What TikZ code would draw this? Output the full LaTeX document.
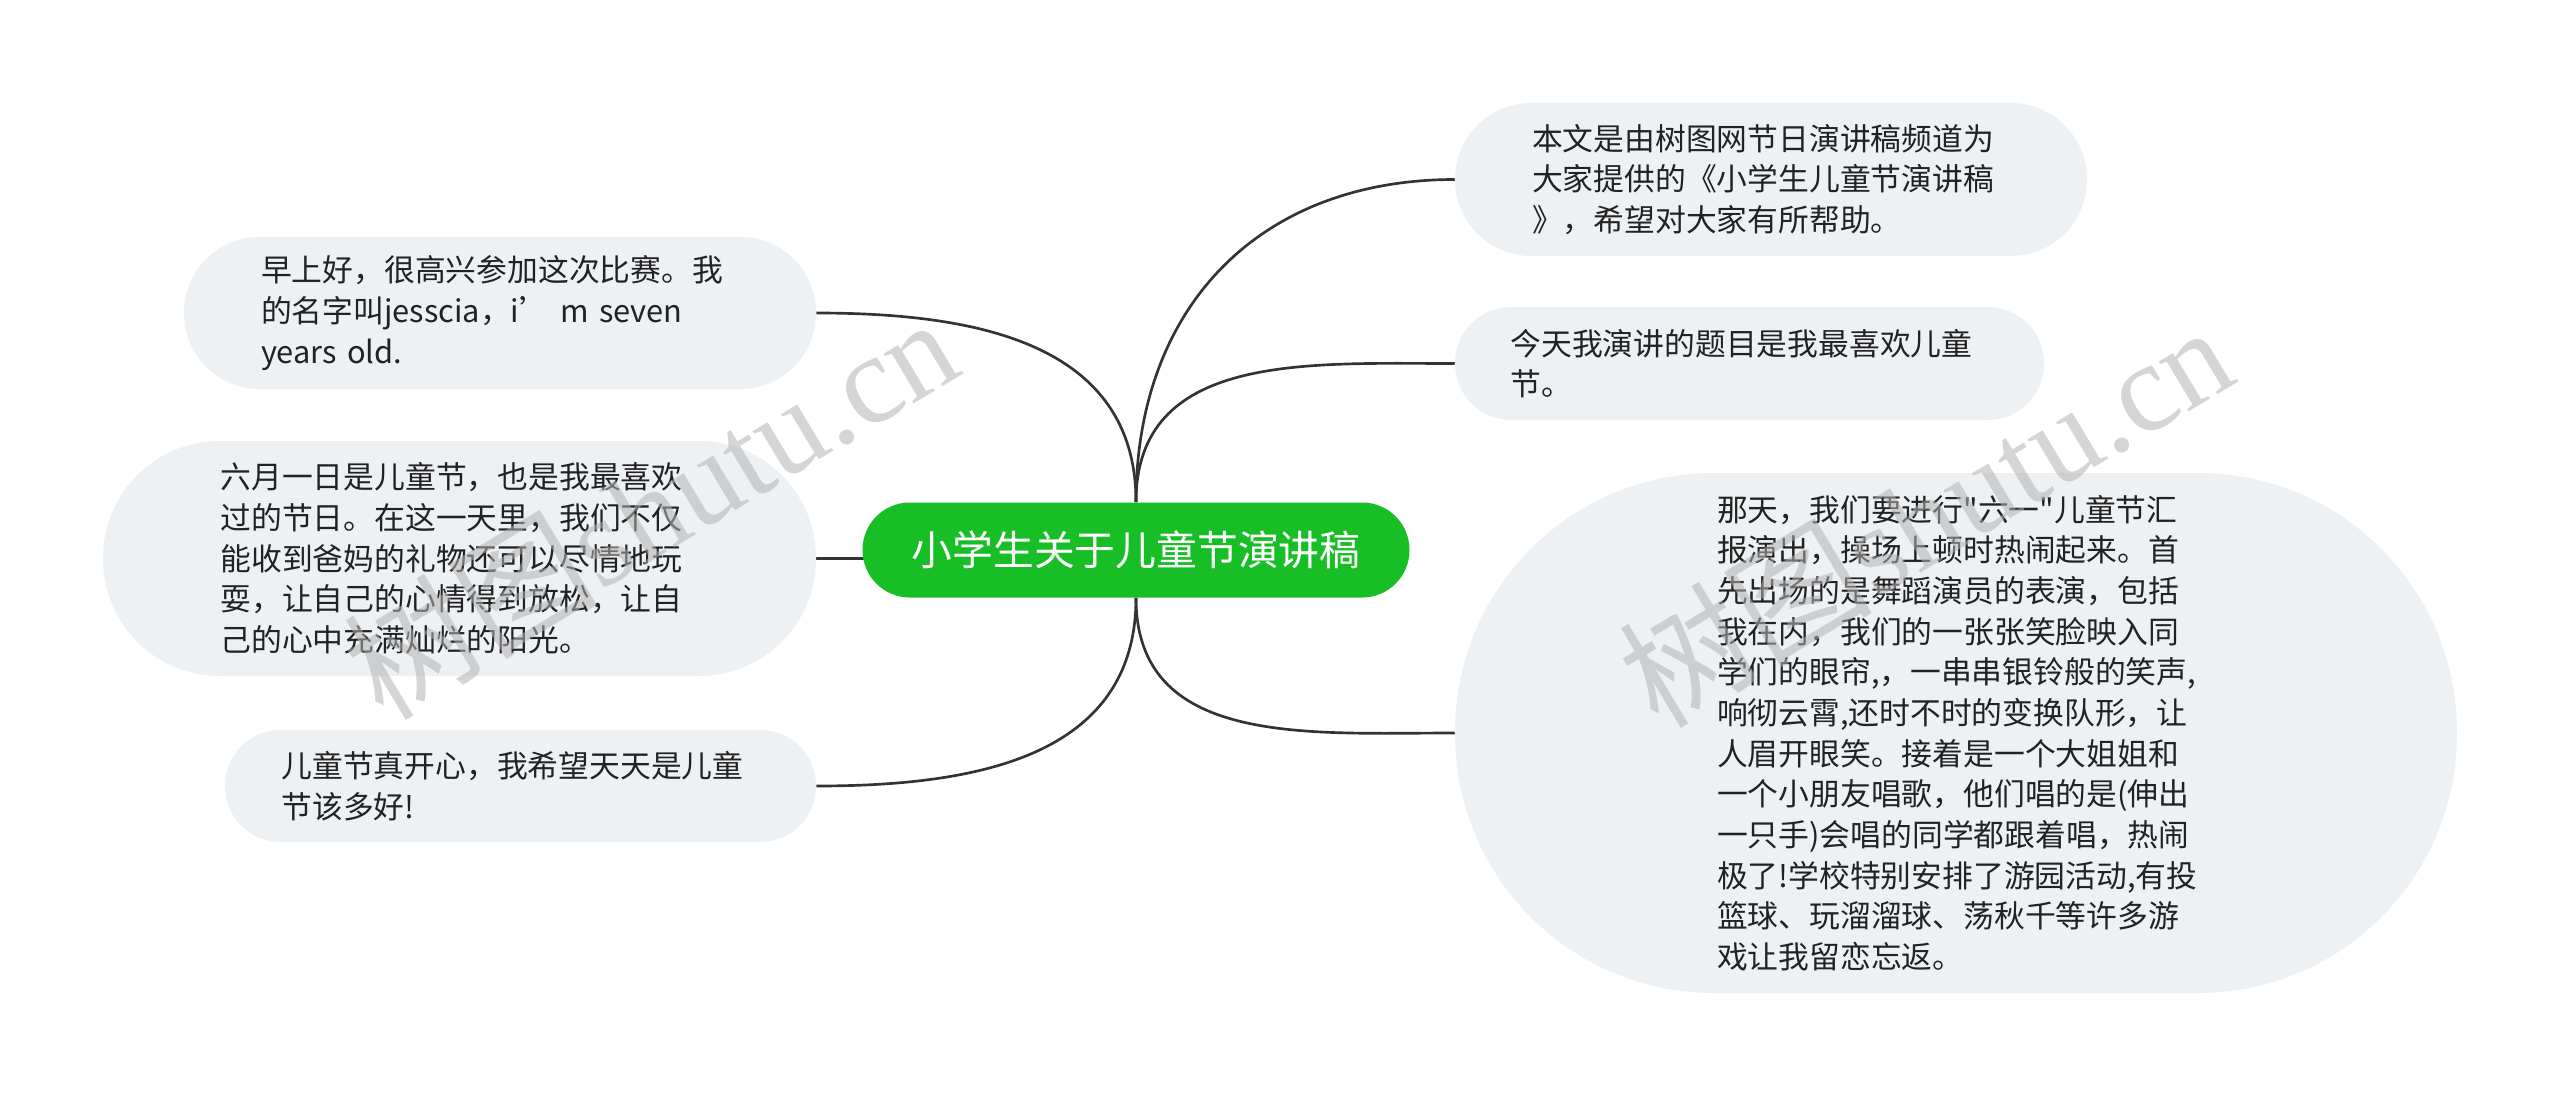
\documentclass[tikz,border=0pt]{standalone}
\usepackage{fontspec}
\setmainfont{Noto Sans CJK SC}
\newfontfamily\plainq{Noto Sans CJK SC}
\newfontfamily\wmserif{Liberation Serif}
\usetikzlibrary{backgrounds}
\definecolor{rootgreen}{RGB}{24,190,38}
\definecolor{leafgray}{RGB}{238,241,244}
\definecolor{linegray}{RGB}{51,51,51}
\definecolor{txtcol}{RGB}{34,34,34}
\newcommand{\sq}{{\plainq"}}
\begin{document}
\begin{tikzpicture}[x=0.75pt,y=-0.75pt,
  leaf/.style={fill=leafgray, draw=none, text=txtcol, align=left, text width=358.5pt, inner sep=0pt,
    font=\fontsize{23.1pt}{30.5pt}\selectfont},
  rootnode/.style={fill=rootgreen, draw=none, text=white, inner sep=0pt, minimum width=410.25pt,
    minimum height=71.25pt, rounded corners=35.5pt, font=\fontsize{30.6pt}{36pt}\selectfont},
  conn/.style={draw=linegray, line width=2pt},
  wm/.style={text=black!30, opacity=0.55, rotate=31, inner sep=0pt, font=\fontsize{95pt}{95pt}\selectfont}]
\useasboundingbox (0,0) rectangle (2560,1099);

\node[rootnode] (root) at (1136,550) {小学生关于儿童节演讲稿};

\node[leaf, minimum width=474pt, minimum height=114pt, rounded corners=56.5pt] (L1) at (500,313)
  {早上好，很高兴参加这次比赛。我\\的名字叫jesscia，i’ m seven\\years old.};
\node[leaf, minimum width=534.75pt, minimum height=176.25pt, rounded corners=87.5pt] (L2) at (459.5,558.5)
  {六月一日是儿童节，也是我最喜欢\\过的节日。在这一天里，我们不仅\\能收到爸妈的礼物还可以尽情地玩\\耍，让自己的心情得到放松，让自\\己的心中充满灿烂的阳光。};
\node[leaf, minimum width=443.25pt, minimum height=84pt, rounded corners=41.5pt] (L3) at (520.5,786)
  {儿童节真开心，我希望天天是儿童\\节该多好!};

\node[leaf, minimum width=474pt, minimum height=114.75pt, rounded corners=57pt] (R1) at (1771,179.5)
  {本文是由树图网节日演讲稿频道为\\大家提供的《小学生儿童节演讲稿\\》，希望对大家有所帮助。};
\node[leaf, minimum width=441.75pt, minimum height=84.75pt, rounded corners=42pt] (R2) at (1749.5,363.5)
  {今天我演讲的题目是我最喜欢儿童\\节。};
\node[leaf, minimum width=751.5pt, minimum height=390pt, rounded corners=194pt] (R3) at (1956,733)
  {那天，我们要进行\sq 六一\sq 儿童节汇\\报演出，操场上顿时热闹起来。首\\先出场的是舞蹈演员的表演，包括\\我在内，我们的一张张笑脸映入同\\学们的眼帘,，一串串银铃般的笑声,\\响彻云霄,还时不时的变换队形，让\\人眉开眼笑。接着是一个大姐姐和\\一个小朋友唱歌，他们唱的是(伸出\\一只手)会唱的同学都跟着唱，热闹\\极了!学校特别安排了游园活动,有投\\篮球、玩溜溜球、荡秋千等许多游\\戏让我留恋忘返。};

\begin{scope}[on background layer]
  \draw[conn] (root.north) to[out=90,in=0,looseness=1.1] (L1.east);
  \draw[conn] (L2.east) -- (L2.east -| root.center);
  \draw[conn] (root.south) to[out=-90,in=0,looseness=1.1] (L3.east);
  \draw[conn] (root.north) to[out=90,in=180,looseness=1.1] (R1.west);
  \draw[conn] (root.north) to[out=90,in=180,looseness=1.1] (R2.west);
  \draw[conn] (root.south) to[out=-90,in=180,looseness=1.1] (R3.west);
\end{scope}

\node[wm] (wm1) at (650,506) {树图{\wmserif shutu.cn}};
\node[wm] (wm2) at (1925,514) {树图{\wmserif shutu.cn}};
\end{tikzpicture}
\end{document}
